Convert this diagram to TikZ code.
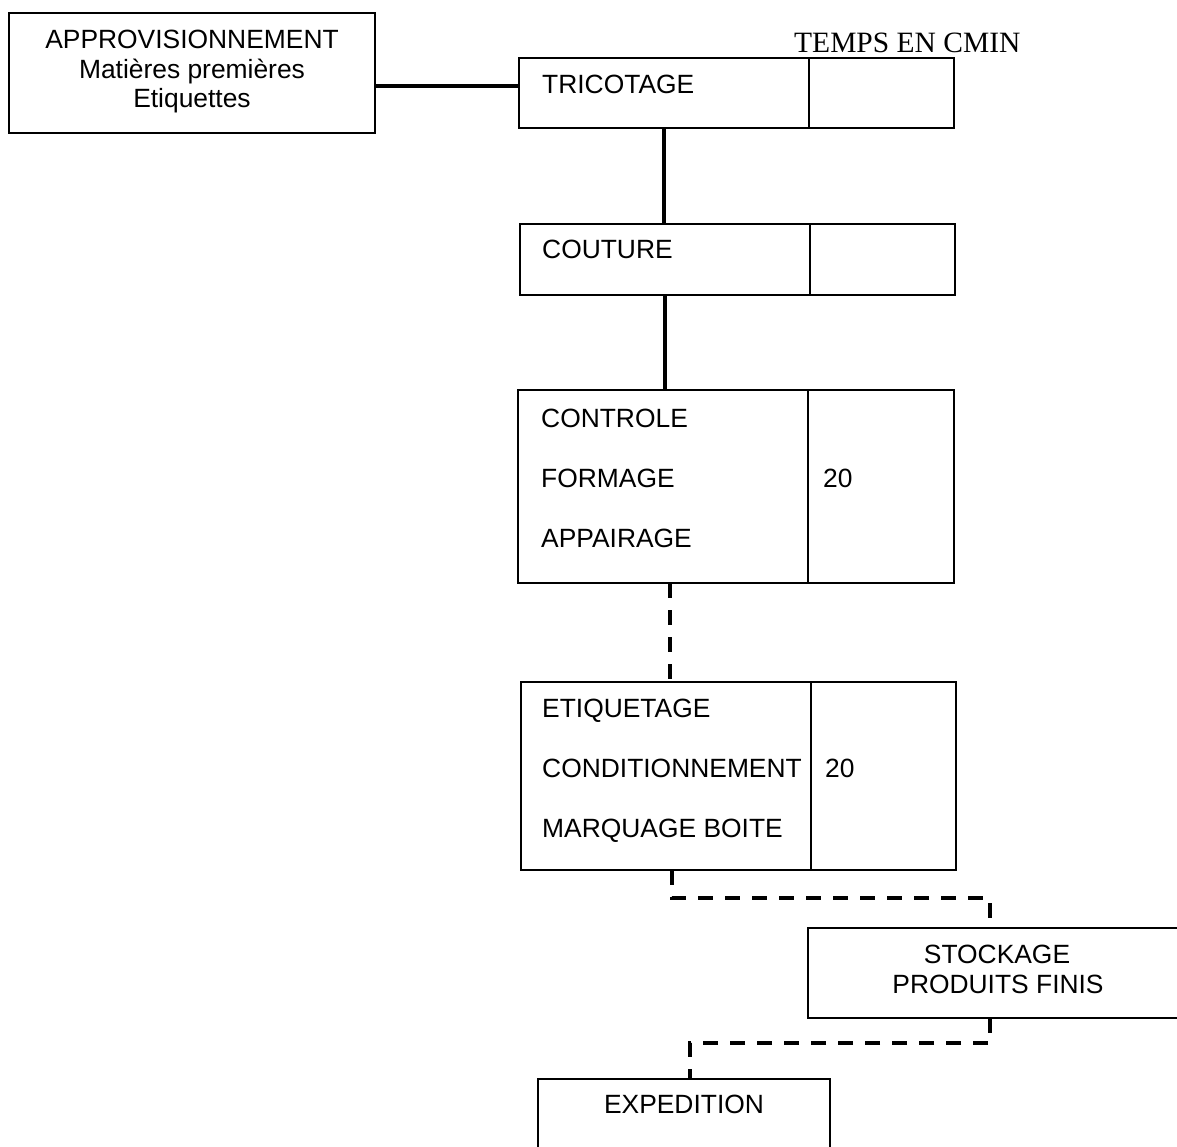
\documentclass[tikz,border=0pt]{standalone}
\usepackage{fontspec}
\setmainfont{Liberation Sans}
\newfontfamily\serifT{Liberation Serif}
\begin{document}
\begin{tikzpicture}[x=1pt,y=-1pt,
  box/.style={draw, line width=1.8pt, inner sep=0pt, outer sep=0pt, anchor=north west},
  lbl/.style={inner sep=0pt, anchor=base west, font=\fontsize{26.4}{30}\selectfont},
  clbl/.style={inner sep=0pt, anchor=base, font=\fontsize{26.4}{30}\selectfont},
  conn/.style={line width=3.5pt},
  dconn/.style={line width=3.5pt, dash pattern=on 15pt off 12pt}]
\useasboundingbox (0,0) rectangle (1177,1146);
% boxes
\node[box, minimum width=366pt, minimum height=120pt] (appro) at (9,13) {};
\node[box, minimum width=290pt, minimum height=70pt] (tri) at (519,58) {};
\node[box, minimum width=145pt, minimum height=70pt] (triT) at (809,58) {};
\node[box, minimum width=290pt, minimum height=71pt] (cou) at (520,224) {};
\node[box, minimum width=145pt, minimum height=71pt] (couT) at (810,224) {};
\node[box, minimum width=290pt, minimum height=193pt] (ctl) at (518,390) {};
\node[box, minimum width=146pt, minimum height=193pt] (ctlT) at (808,390) {};
\node[box, minimum width=290pt, minimum height=188pt] (eti) at (521,682) {};
\node[box, minimum width=145pt, minimum height=188pt] (etiT) at (811,682) {};
\node[box, minimum width=400pt, minimum height=90pt] (sto) at (808,928) {};
\node[box, minimum width=292pt, minimum height=120pt] (exp) at (538,1079) {};
% texts
\node[clbl] (a1) at (192,48) {APPROVISIONNEMENT};
\node[clbl] (a2) at (192,78) {Matières premières};
\node[clbl] (a3) at (192,107) {Etiquettes};
\node[inner sep=0pt, anchor=base west, font=\serifT\fontsize{29.5}{30}\selectfont] (temps) at (794,52) {TEMPS EN CMIN};
\node[lbl] (t1) at (542,93) {TRICOTAGE};
\node[lbl] (t2) at (542,258) {COUTURE};
\node[lbl] (t3) at (541,427) {CONTROLE};
\node[lbl] (t4) at (541,487) {FORMAGE};
\node[lbl] (t5) at (541,547) {APPAIRAGE};
\node[lbl] (n1) at (823,487) {20};
\node[lbl] (t6) at (542,717) {ETIQUETAGE};
\node[lbl] (t7) at (542,777) {CONDITIONNEMENT};
\node[lbl] (t8) at (542,837) {MARQUAGE BOITE};
\node[lbl] (n2) at (825,777) {20};
\node[clbl] (s1) at (997,963) {STOCKAGE};
\node[clbl] (s2) at (998,993) {PRODUITS FINIS};
\node[clbl] (e1) at (684,1113) {EXPEDITION};
% connectors
\coordinate (j1) at (0,86);
\draw[conn] (appro.east |- j1) -- (tri.west |- j1);
\draw[conn] (tri.south) -- (tri.south |- cou.north);
\draw[conn] (cou.south) -- (cou.south |- ctl.north);
\coordinate (c3) at (670,0);
\draw[dconn] (ctl.south -| c3) -- (eti.north -| c3);
\coordinate (c4) at (672,898);
\coordinate (c5) at (990,0);
\draw[dconn] (eti.south -| c4) |- (c5 |- c4) -- (sto.north -| c5);
\coordinate (c6) at (690,1043);
\draw[dconn] (sto.south -| c5) |- (c6) -- (exp.north -| c6);
\end{tikzpicture}
\end{document}
